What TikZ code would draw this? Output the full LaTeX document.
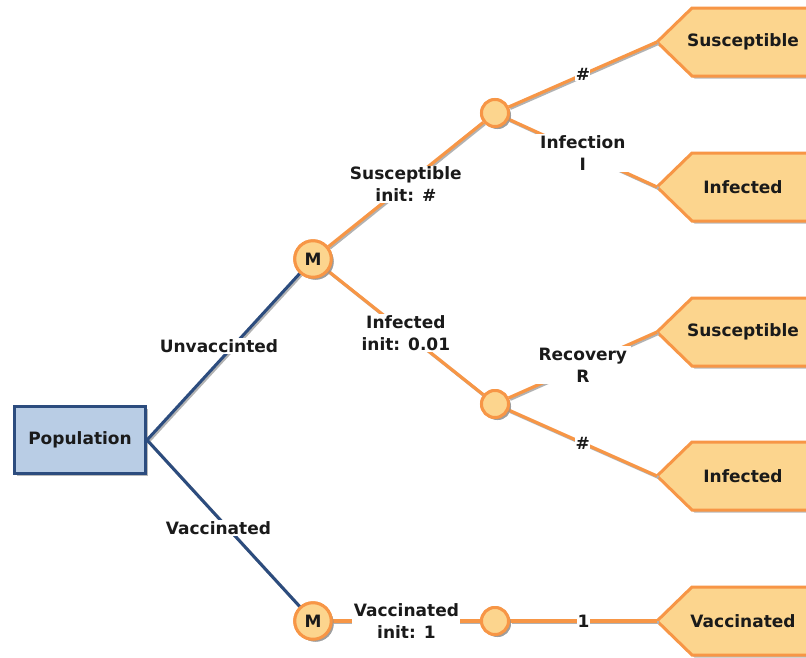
\documentclass[tikz,border=0pt]{standalone}
\usepackage{fontspec}
\setmainfont{DejaVu Sans}
\usetikzlibrary{shadows}
\definecolor{orng}{HTML}{F79646}
\definecolor{orfill}{HTML}{FCD58E}
\definecolor{bluefill}{HTML}{B9CDE5}
\definecolor{bluedraw}{HTML}{2C4C7E}
\definecolor{ink}{HTML}{1A1A1A}
\tikzset{
  every node/.style={font=\fontsize{17}{22}\selectfont\bfseries, text=ink},
  softshadow/.style={drop shadow={shadow xshift=2.5pt, shadow yshift=-2.5pt, fill=black!45, opacity=0.6}},
  popbox/.style={draw=bluedraw, fill=bluefill, line width=3pt, minimum width=131pt, minimum height=67pt, softshadow},
  markov/.style={circle, draw=orng, fill=orfill, line width=3pt, minimum size=36.5pt, inner sep=0pt, softshadow},
  chance/.style={circle, draw=orng, fill=orfill, line width=3pt, minimum size=27pt, inner sep=0pt, softshadow},
  terminal/.style={draw=orng, fill=orfill, line width=3pt, line join=miter, softshadow},
  lbl/.style={fill=white, inner sep=1.5pt, align=center},
  edgeshadow/.style={preaction={draw=black!30, line width=3pt, transform canvas={shift={(1.5pt,-1.5pt)}}}},
  blueedge/.style={draw=bluedraw, line width=3pt, edgeshadow},
  orangeedge/.style={draw=orng, line width=3.2pt, edgeshadow},
}
\begin{document}
\begin{tikzpicture}[x=1pt, y=-1pt]
\clip (0,0) rectangle (806,657);
\fill[white] (0,0) rectangle (806,657);

% terminal (absorbing) states
\coordinate (t1tip) at (657,42);
\coordinate (t2tip) at (657,187);
\coordinate (t3tip) at (657,332);
\coordinate (t4tip) at (657,476);
\coordinate (t5tip) at (657,621);
\foreach \t in {t1tip,t2tip,t3tip,t4tip,t5tip}
  \draw[terminal] (\t) -- ++(35,-34) -- ++(140,0) -- ++(0,68) -- ++(-140,0) -- cycle;
\node (t1) at (743,42) {Susceptible};
\node (t2) at (743,187) {Infected};
\node (t3) at (743,332) {Susceptible};
\node (t4) at (743,476) {Infected};
\node (t5) at (743,621) {Vaccinated};

% decision, Markov and chance nodes
\node[popbox] (pop) at (80,440) {Population};
\node[markov] (m1) at (313,259) {M};
\node[markov] (m2) at (313,621) {M};
\node[chance] (c1) at (495,113) {};
\node[chance] (c2) at (495,404) {};
\node[chance] (c3) at (495,621) {};

% connectors
\draw[blueedge] (pop.east) -- node[lbl, pos=0.563, xshift=-14pt] {Unvaccinted} (m1);
\draw[blueedge] (pop.east) -- node[lbl, pos=0.527, xshift=-9pt] {Vaccinated} (m2);
\draw[orangeedge] (m1) -- node[lbl] {Susceptible\\init: \#} (c1);
\draw[orangeedge] (m1) -- node[lbl] {Infected\\init: 0.01} (c2);
\draw[orangeedge] (m2) -- node[lbl] {Vaccinated\\init: 1} (c3);
\draw[orangeedge] (c1) -- node[lbl, inner sep=0.5pt] {\#} (t1tip);
\draw[orangeedge] (c1) -- node[lbl, inner xsep=4pt] {Infection\\I} (t2tip);
\draw[orangeedge] (c2) -- node[lbl, inner xsep=4pt] {Recovery\\R} (t3tip);
\draw[orangeedge] (c2) -- node[lbl, inner sep=0.5pt] {\#} (t4tip);
\draw[orangeedge] (c3) -- node[lbl, inner sep=0.5pt] {1} (t5tip);

% redraw the nodes over their connectors
\node[markov] at (m1) {M};
\node[markov] at (m2) {M};
\node[chance] at (c1) {};
\node[chance] at (c2) {};
\node[chance] at (c3) {};
\end{tikzpicture}
\end{document}
